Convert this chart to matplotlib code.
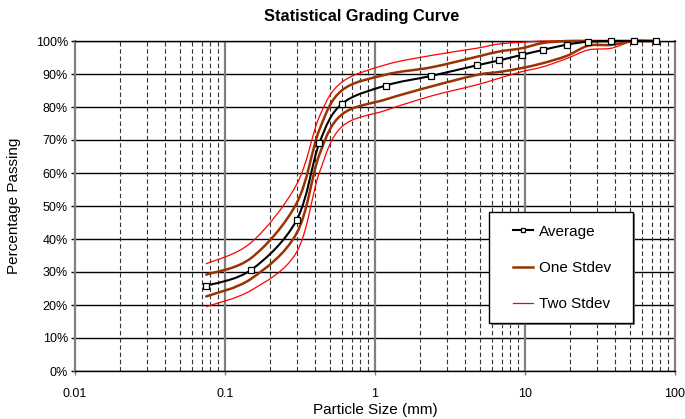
import numpy as np
import matplotlib
matplotlib.use("Agg")
import matplotlib.pyplot as plt
from matplotlib.path import Path
from matplotlib.patches import PathPatch, Rectangle
from matplotlib.lines import Line2D
from matplotlib.ticker import FixedLocator, NullFormatter, FuncFormatter

plt.rcParams['font.family'] = ['Liberation Sans', 'DejaVu Sans']

# ---- data ----
sieve_mm = [0.075, 0.15, 0.3, 0.425, 0.6, 1.18, 2.36, 4.75, 6.7, 9.5, 13.2, 19, 26.5, 37.5, 53, 75]
average  = [25.8, 30.7, 45.7, 69.0, 80.9, 86.5, 89.4, 92.6, 94.1, 95.8, 97.3, 98.9, 99.8, 100, 100, 100]
one_up   = [29.2, 34.3, 50.8, 73.0, 85.0, 89.8, 92.0, 95.2, 96.8, 97.8, 99.4, 100, 100, 100, 100, 100]
one_lo   = [22.6, 28.0, 41.7, 65.5, 77.7, 82.3, 86.2, 89.7, 90.6, 91.8, 93.3, 95.5, 98.6, 98.8, 100, 100]
two_up   = [32.5, 39.0, 56.5, 77.0, 87.5, 92.8, 95.6, 97.8, 99.1, 99.6, 100, 100, 100, 100, 100, 100]
two_lo   = [19.5, 24.5, 36.0, 60.0, 74.0, 79.0, 83.3, 86.7, 88.7, 90.7, 92.2, 94.7, 97.3, 97.8, 100, 100]

x_tick_vals = [0.01, 0.1, 1, 10, 100]
x_tick_labels = ['0.01', '0.1', '1', '10', '100']
y_tick_vals = list(range(0, 101, 10))
legend_labels = ['Average', 'One Stdev', 'Two Stdev']

title = 'Statistical Grading Curve'
xlabel = 'Particle Size (mm)'
ylabel = 'Percentage Passing'

BROWN = '#993300'
RED = '#ff0000'


def smooth_path(xs, ys):
    """Excel-like smoothed line (Catmull-Rom Bezier) in log-x space."""
    pts = np.column_stack([np.log10(xs), np.asarray(ys, float)])
    n = len(pts)
    verts = [pts[0]]
    codes = [Path.MOVETO]
    for i in range(n - 1):
        p0 = pts[i - 1] if i > 0 else pts[i]
        p1 = pts[i]
        p2 = pts[i + 1]
        p3 = pts[i + 2] if i + 2 < n else pts[i + 1]
        c1 = p1 + (p2 - p0) / 6.0
        c2 = p2 - (p3 - p1) / 6.0
        verts += [c1, c2, p2]
        codes += [Path.CURVE4] * 3
    verts = np.array(verts)
    verts[:, 0] = 10 ** verts[:, 0]
    return Path(verts, codes)


fig = plt.figure(figsize=(6.85, 4.19), dpi=100)
W, H = 685, 419
ax = fig.add_axes([75 / W, 1 - 371 / H, 600 / W, 330 / H])
ax.set_xscale('log')
ax.set_xlim(0.01, 100)
ax.set_ylim(0, 100)

# grid
minors = [m * d for d in [0.01, 0.1, 1, 10] for m in range(2, 10)]
ax.xaxis.set_minor_locator(FixedLocator(minors))
ax.xaxis.set_minor_formatter(NullFormatter())
ax.set_xticks(x_tick_vals)
ax.set_xticklabels(x_tick_labels)
ax.set_yticks(y_tick_vals)
ax.yaxis.set_major_formatter(FuncFormatter(lambda v, p: f'{int(v)}%'))

for v in y_tick_vals:
    ax.axhline(v, color='black', lw=1.0, zorder=1)
for v in minors:
    ax.axvline(v, color='#333333', lw=0.8, ls=(0, (4, 2.5)), zorder=1)
for v in x_tick_vals[1:-1]:
    ax.axvline(v, color='#808080', lw=1.6, zorder=1)

for s in ['left', 'right']:
    ax.spines[s].set_color('#808080')
    ax.spines[s].set_linewidth(1.6)
for s in ['top', 'bottom']:
    ax.spines[s].set_color('black')
    ax.spines[s].set_linewidth(1.0)

ax.tick_params(axis='x', which='major', length=3, width=1, color='#808080',
               labelsize=9, pad=9)
ax.tick_params(axis='x', which='minor', length=0)
ax.tick_params(axis='y', which='major', length=3, width=1, color='black',
               labelsize=9, pad=2)

# curves
for ys, col, lw in [(two_up, RED, 0.9), (two_lo, RED, 0.9),
                    (one_up, BROWN, 1.8), (one_lo, BROWN, 1.8),
                    (average, 'black', 1.5)]:
    ax.add_patch(PathPatch(smooth_path(sieve_mm, ys), fill=False,
                           edgecolor=col, lw=lw, zorder=3, clip_on=False,
                           capstyle='round', joinstyle='round'))

ax.plot(sieve_mm, average, ls='none', marker='s', ms=4.2, mfc='white',
        mec='black', mew=0.9, zorder=4, clip_on=False)

# legend box (frame + shadow) in figure pixel coordinates
lx0, ly0, lx1, ly1 = 489, 212, 633, 323
shadow = Rectangle(((lx0 + 2) / W, 1 - (ly1 + 2) / H), (lx1 - lx0) / W, (ly1 - ly0) / H,
                   transform=fig.transFigure, facecolor='#808080', edgecolor='none',
                   zorder=5)
frame = Rectangle((lx0 / W, 1 - ly1 / H), (lx1 - lx0) / W, (ly1 - ly0) / H,
                  transform=fig.transFigure, facecolor='white', edgecolor='black',
                  lw=1.0, zorder=5.5)
fig.add_artist(shadow)
fig.add_artist(frame)

handles = [Line2D([], [], color='black', lw=1.5, marker='s', ms=3.5,
                  mfc='white', mec='black', mew=0.9),
           Line2D([], [], color=BROWN, lw=1.8),
           Line2D([], [], color=RED, lw=0.9)]
leg = fig.legend(handles, legend_labels,
                 loc='center left', bbox_to_anchor=(513 / W, 1 - 268 / H),
                 fontsize=11, frameon=False, borderpad=0,
                 labelspacing=1.45, handlelength=1.31, handletextpad=0.36,
                 borderaxespad=0)
leg.set_zorder(6)

fig.text(362 / W, 1 - 17 / H, title, ha='center', va='center',
         fontsize=11.8, fontweight='bold')
fig.text(375 / W, 1 - 410 / H, xlabel, ha='center', va='center', fontsize=11)
fig.text(14 / W, 1 - 206 / H, ylabel, ha='center', va='center',
         rotation=90, fontsize=11)

fig.savefig('out.png', dpi=100)
